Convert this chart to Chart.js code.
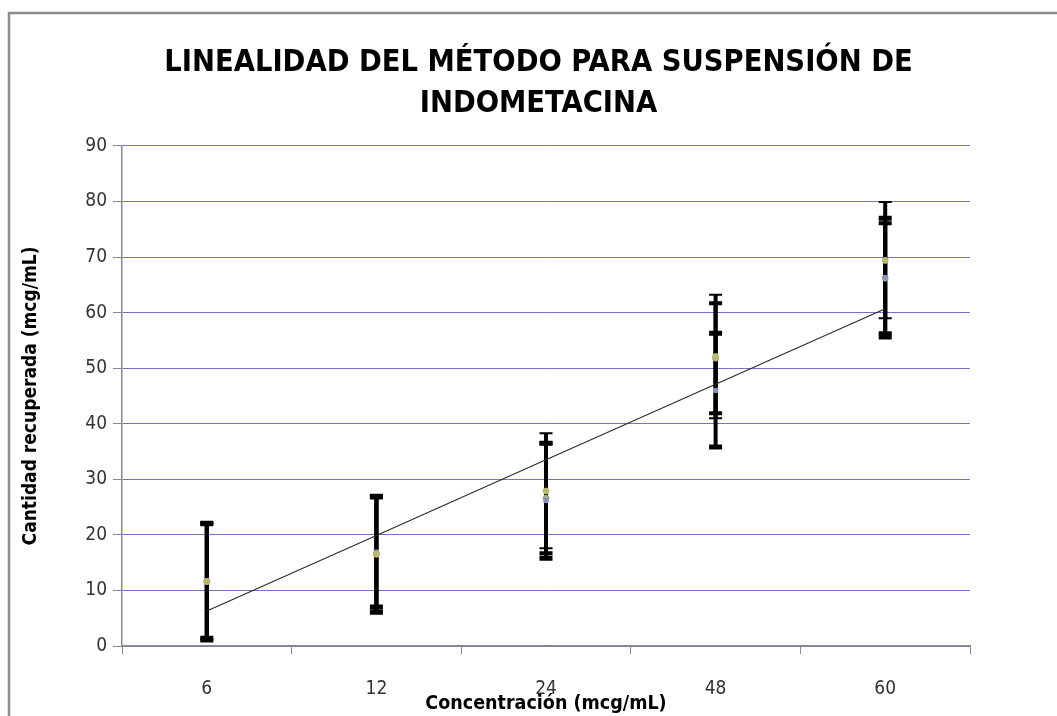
<!DOCTYPE html>
<html>
<head>
<meta charset="utf-8">
<script src="https://cdn.jsdelivr.net/npm/chart.js@4"></script>
<style>
  html, body { margin: 0; padding: 0; background: #fff; }
  #wrap { width: 1057px; height: 716px; position: relative; }
</style>
</head>
<body>
<div id="wrap"><canvas id="chart"></canvas></div>
<script>
// Concentraciones (categorías del eje X)
const categories = ['6', '12', '24', '48', '60'];

// Réplica 1: media y extremos de la barra de error
const rep1Mean = [11.6, 16.5, 27.9, 52.1, 69.4];
const rep1Low  = [1.2, 5.8, 17.6, 41.0, 59.0];
const rep1High = [22.0, 27.2, 38.3, 63.2, 79.9];

// Réplica 2
const rep2Mean = [11.7, 16.9, 26.2, 46.0, 66.3];
const rep2Low  = [1.4, 7.0, 15.8, 35.8, 55.6];
const rep2High = [22.0, 26.8, 36.5, 56.3, 77.0];

// Réplica 3
const rep3Mean = [11.6, 16.6, 26.6, 51.8, 66.2];
const rep3Low  = [1.0, 6.2, 16.7, 41.9, 56.3];
const rep3High = [22.2, 27.0, 36.5, 61.7, 76.1];

// Línea de tendencia
const trendValues = [6.3, 19.9, 33.5, 47.1, 60.7];

const yTicks = { min: 0, max: 90, step: 10 };

const FONT = '"Liberation Sans Narrow", "DejaVu Sans Condensed", "Open Sans", sans-serif';

// marco gris del gráfico
const framePlugin = {
  id: 'frame',
  beforeDraw(chart) {
    const ctx = chart.ctx;
    ctx.save();
    ctx.fillStyle = '#ffffff';
    ctx.fillRect(0, 0, chart.width, chart.height);
    ctx.strokeStyle = '#8c8c8c';
    ctx.lineWidth = 2.5;
    ctx.strokeRect(9, 13, chart.width + 20, chart.height + 20);
    ctx.restore();
  }
};

// barras de error dibujadas con las escalas de Chart.js
const errorBarPlugin = {
  id: 'errorBars',
  beforeDatasetsDraw(chart) {
    const ctx = chart.ctx;
    const yScale = chart.scales.y;
    chart.data.datasets.forEach((ds, i) => {
      if (!ds.errLow) return;
      const meta = chart.getDatasetMeta(i);
      ctx.save();
      ctx.strokeStyle = '#000';
      meta.data.forEach((pt, j) => {
        const x = pt.x;
        const yLo = yScale.getPixelForValue(ds.errLow[j]);
        const yHi = yScale.getPixelForValue(ds.errHigh[j]);
        ctx.lineWidth = 4;
        ctx.beginPath();
        ctx.moveTo(x, yLo);
        ctx.lineTo(x, yHi);
        ctx.stroke();
        ctx.lineWidth = ds.capWidth;
        ctx.beginPath();
        ctx.moveTo(x - 6.5, yLo);
        ctx.lineTo(x + 6.5, yLo);
        ctx.moveTo(x - 6.5, yHi);
        ctx.lineTo(x + 6.5, yHi);
        ctx.stroke();
      });
      ctx.restore();
    });
  }
};

const replicate = (label, mean, low, high, color, style, cap) => ({
  type: 'line',
  label: label,
  data: mean,
  errLow: low,
  errHigh: high,
  capWidth: cap,
  showLine: false,
  pointStyle: style,
  pointRadius: 3,
  pointBackgroundColor: color,
  pointBorderColor: color,
  order: 1
});

new Chart(document.getElementById('chart'), {
  type: 'line',
  data: {
    labels: categories,
    datasets: [
      replicate('Réplica 1', rep1Mean, rep1Low, rep1High, '#b9b96a', 'circle', 2),
      replicate('Réplica 2', rep2Mean, rep2Low, rep2High, '#8890c0', 'rect', 5),
      replicate('Réplica 3', rep3Mean, rep3Low, rep3High, '#a8a890', 'circle', 4),
      {
        type: 'line',
        label: 'Tendencia',
        data: trendValues,
        borderColor: '#2a2a2a',
        borderWidth: 1.1,
        pointRadius: 0,
        fill: false,
        order: 0
      }
    ]
  },
  options: {
    responsive: true,
    maintainAspectRatio: false,
    animation: false,
    layout: { padding: { top: 20, left: 20, right: 0, bottom: 0 } },
    plugins: {
      legend: { display: false },
      tooltip: { enabled: false },
      title: {
        display: true,
        text: ['LINEALIDAD DEL MÉTODO PARA SUSPENSIÓN DE', 'INDOMETACINA'],
        color: '#000',
        font: { family: FONT, size: 30.5, weight: 'bold', lineHeight: 1.35 },
        padding: { top: 22, bottom: 21.6 }
      }
    },
    scales: {
      x: {
        type: 'category',
        offset: true,
        grid: {
          display: true,
          offset: true,
          drawOnChartArea: false,
          drawTicks: true,
          tickLength: 8,
          tickColor: '#8a8a8a'
        },
        border: { color: '#8a8a8a', width: 1.5 },
        ticks: {
          color: '#333333',
          font: { family: FONT, size: 19 },
          padding: 24
        },
        title: {
          display: true,
          text: 'Concentración (mcg/mL)',
          color: '#000',
          font: { family: FONT, size: 19.5, weight: 'bold' },
          padding: { top: 0, bottom: 0 }
        },
        afterFit(scale) { scale.height = 70; }
      },
      y: {
        min: yTicks.min,
        max: yTicks.max,
        grid: {
          color: '#7373c4',
          lineWidth: 1,
          drawTicks: true,
          tickLength: 9,
          tickColor: '#8a8a8a'
        },
        border: { color: '#8a8a8a', width: 1.5 },
        ticks: {
          stepSize: yTicks.step,
          color: '#333333',
          font: { family: FONT, size: 19 },
          padding: 6
        },
        title: {
          display: true,
          text: 'Cantidad recuperada (mcg/mL)',
          color: '#000',
          font: { family: FONT, size: 19, weight: 'bold' },
          padding: { top: 0, bottom: 8 }
        },
        afterFit(scale) { scale.width = 102; }
      },
      // eje derecho vacío: reserva el margen derecho del área de trazado
      yRight: {
        position: 'right',
        display: true,
        min: yTicks.min,
        max: yTicks.max,
        grid: { display: false, drawTicks: false },
        border: { display: false },
        ticks: { display: false },
        afterFit(scale) { scale.width = 87; }
      }
    }
  },
  plugins: [framePlugin, errorBarPlugin]
});
</script>
</body>
</html>
